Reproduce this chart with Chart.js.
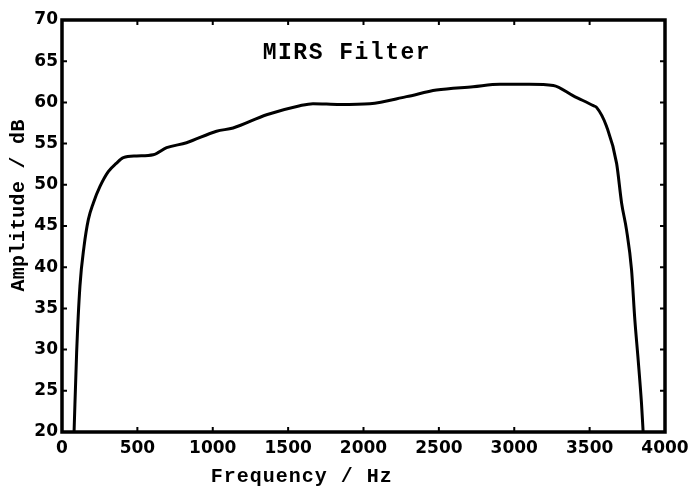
<!DOCTYPE html>
<html>
<head>
<meta charset="utf-8">
<script src="https://cdn.jsdelivr.net/npm/chart.js@4/dist/chart.umd.min.js"></script>
<style>
    html, body { margin: 0; padding: 0; background: #fff; }
    #wrap { width: 692px; height: 487px; }
</style>
</head>
<body>
<div id="wrap"><canvas id="filterChart"></canvas></div>
<script>
// MIRS filter response

const freqHz = [80, 97, 119, 146, 175, 208, 252, 307, 360, 407, 495, 605, 694, 826, 1025, 1135, 1357, 1578, 1665, 1843, 2042, 2285, 2484, 2727, 2905, 3100, 3259, 3392, 3525, 3546, 3612, 3679, 3712, 3745, 3778, 3800, 3822, 3844, 3855];
const amplitudeDb = [20, 29.6, 37.7, 42.5, 45.8, 47.8, 49.8, 51.6, 52.6, 53.3, 53.5, 53.65, 54.5, 55.1, 56.5, 56.9, 58.5, 59.6, 59.85, 59.75, 59.85, 60.7, 61.5, 61.9, 62.2, 62.2, 62.05, 60.8, 59.6, 59.4, 57.1, 52.6, 47.8, 44.5, 39.7, 33.6, 28.75, 23.5, 20];
const xTicks = [0, 500, 1000, 1500, 2000, 2500, 3000, 3500, 4000];
const yTicks = [20, 25, 30, 35, 40, 45, 50, 55, 60, 65, 70];

const chartTitle = 'MIRS Filter';
const xLabel = 'Frequency / Hz';
const yLabel = 'Amplitude / dB';

const points = freqHz.map((f, i) => ({ x: f, y: amplitudeDb[i] }));

const tickFont = { family: '"DejaVu Sans", sans-serif', size: 17, weight: 'bold' };
const monoFont = '"Liberation Mono", "DejaVu Sans Mono", monospace';

// Frame, inward ticks, title and axis labels
const framePlugin = {
    id: 'frame',
    afterDraw(chart) {
        const { ctx, chartArea: a, scales } = chart;
        ctx.save();
        ctx.strokeStyle = '#000';
        ctx.lineWidth = 3.5;
        ctx.strokeRect(a.left, a.top, a.right - a.left, a.bottom - a.top);

        ctx.lineWidth = 2;
        ctx.beginPath();
        xTicks.forEach(v => {
            const px = scales.x.getPixelForValue(v);
            ctx.moveTo(px, a.bottom); ctx.lineTo(px, a.bottom - 5);
            ctx.moveTo(px, a.top); ctx.lineTo(px, a.top + 5);
        });
        yTicks.forEach(v => {
            const py = scales.y.getPixelForValue(v);
            ctx.moveTo(a.left, py); ctx.lineTo(a.left + 5, py);
            ctx.moveTo(a.right, py); ctx.lineTo(a.right - 5, py);
        });
        ctx.stroke();

        ctx.fillStyle = '#000';
        ctx.textAlign = 'center';
        ctx.textBaseline = 'middle';

        // title inside the plot
        ctx.font = 'bold 23px ' + monoFont;
        ctx.letterSpacing = '1.5px';
        ctx.fillText(chartTitle, scales.x.getPixelForValue(1890), scales.y.getPixelForValue(66));

        // x axis label
        ctx.font = 'bold 20px ' + monoFont;
        ctx.letterSpacing = '1px';
        ctx.fillText(xLabel, scales.x.getPixelForValue(1590), 477);

        // y axis label
        ctx.letterSpacing = '0.3px';
        ctx.translate(19, scales.y.getPixelForValue(47.5));
        ctx.rotate(-Math.PI / 2);
        ctx.fillText(yLabel, 0, 0);
        ctx.restore();
    }
};

new Chart(document.getElementById('filterChart'), {
    type: 'line',
    data: {
        datasets: [{
            data: points,
            borderColor: '#000',
            borderWidth: 3,
            pointRadius: 0,
            cubicInterpolationMode: 'monotone',
            fill: false
        }]
    },
    options: {
        responsive: true,
        maintainAspectRatio: false,
        animation: false,
        layout: { padding: { top: 20, right: 27, left: 0, bottom: 0 } },
        plugins: {
            legend: { display: false },
            tooltip: { enabled: false }
        },
        scales: {
            x: {
                type: 'linear',
                min: 0,
                max: 4000,
                afterBuildTicks: s => { s.ticks = xTicks.map(v => ({ value: v })); },
                afterFit: s => { s.height = 55; s.paddingRight = 0; s.paddingLeft = 0; },
                grid: { display: false, drawTicks: false },
                border: { display: false },
                ticks: {
                    color: '#000',
                    padding: 6,
                    maxRotation: 0,
                    font: tickFont,
                    callback: v => String(v)
                }
            },
            y: {
                min: 20,
                max: 70,
                afterBuildTicks: s => { s.ticks = yTicks.map(v => ({ value: v })); },
                afterFit: s => { s.width = 62; s.paddingTop = 0; s.paddingBottom = 0; },
                grid: { display: false, drawTicks: false },
                border: { display: false },
                ticks: {
                    color: '#000',
                    padding: 4,
                    font: tickFont,
                    callback: v => String(v)
                }
            }
        }
    },
    plugins: [framePlugin]
});
</script>
</body>
</html>
